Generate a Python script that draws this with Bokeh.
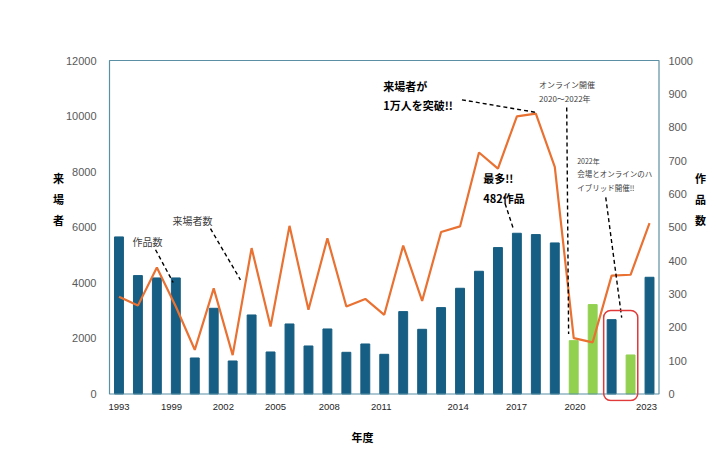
from bokeh.plotting import figure
from bokeh.models import Range1d, LinearAxis, FixedTicker, Label, BoxAnnotation, ColumnDataSource
from bokeh.embed import file_html
from bokeh.resources import INLINE

# ---- data ----
works = [471, 355, 348, 348, 108, 257, 99, 237, 126, 210, 144, 195, 125, 150, 119,
         247, 194, 259, 317, 368, 439, 482, 478, 453, 160, 268, 223, 117, 350]
visitors = [3500, 3180, 4550, 3150, 1590, 3800, 1400, 5250, 2430, 6050, 3030, 5600, 3150,
            3420, 2850, 5340, 3350, 5830, 6030, 8690, 8110, 9990, 10090, 8170, 2010, 1860,
            4260, 4290, 6150]
kinds = ["venue"] * 24 + ["online", "online", "venue", "online", "venue"]
year_labels = ["1993", "1999", "2002", "2005", "2008", "2011", "2014", "2017", "2020", "2023"]
year_label_x = [0.0, 2.77, 5.51, 8.26, 11.1, 13.84, 17.9, 20.98, 24.07, 27.84]
left_ticks = [0, 2000, 4000, 6000, 8000, 10000, 12000]
right_ticks = [0, 100, 200, 300, 400, 500, 600, 700, 800, 900, 1000]

BLUE = "#165E83"
GREEN = "#92D050"
ORANGE = "#E97132"
FRAME = "#5B8FA3"
colors = [BLUE if k == "venue" else GREEN for k in kinds]
idx = list(range(len(works)))
n = len(works)

src = ColumnDataSource(dict(x=idx, works=works, visitors=visitors, color=colors))

JP = "Noto Sans CJK JP"
NUM = "Liberation Sans"

# frame slightly larger than the drawn plot-area box so the 2022 box can reach below the axis
p = figure(width=716, height=472, output_backend="svg", toolbar_location=None,
           x_range=Range1d(-0.6055, n - 0.368), y_range=Range1d(-270, 12072),
           x_axis_location=None, min_border_left=107, min_border_right=55,
           min_border_top=58, min_border_bottom=71)
p.extra_y_ranges = {"works": Range1d(-22.5, 1006)}
p.grid.visible = False
p.outline_line_color = None
p.background_fill_color = "white"
p.border_fill_color = "white"

def style_axis(a, standoff):
    a.axis_line_color = None
    a.major_tick_line_color = None
    a.minor_tick_line_color = None
    a.major_label_standoff = standoff
    a.major_label_text_font = NUM
    a.major_label_text_font_size = "11px"
    a.major_label_text_color = "#595959"
    a.axis_label_text_font = JP
    a.axis_label_text_font_size = "11px"
    a.axis_label_text_font_style = "bold"
    a.axis_label_text_color = "black"

ax = p.yaxis[0]
ax.ticker = FixedTicker(ticks=left_ticks)
style_axis(ax, 5)
ax.axis_label = "来\n場\n者\n\u3000\n\u3000\n\u3000"
ax.axis_label_orientation = "horizontal"
ax.axis_label_text_line_height = 1.3
ax.axis_label_standoff = -1

rax = LinearAxis(y_range_name="works", ticker=FixedTicker(ticks=right_ticks))
style_axis(rax, 1)
rax.axis_label = "作\n品\n数\n\u3000\n\u3000\n\u3000"
rax.axis_label_orientation = "horizontal"
rax.axis_label_text_line_height = 1.3
rax.axis_label_standoff = -1
p.add_layout(rax, "right")

bax = LinearAxis(ticker=FixedTicker(ticks=year_label_x),
                 major_label_overrides={k: v for k, v in zip(year_label_x, year_labels)})
style_axis(bax, -4)
bax.major_label_text_font_size = "9.5px"
bax.major_label_text_color = "#262626"
bax.axis_label = "年度" + "\u3000" * 4
bax.axis_label_standoff = 16
p.add_layout(bax, "below")

# plot-area border
p.add_layout(BoxAnnotation(left=-0.5, right=n - 0.5, bottom=0, top=12000,
                           fill_color=None, line_color=FRAME, line_alpha=1, line_width=1.2))

p.vbar(x="x", top="works", width=0.47, color="color", source=src, y_range_name="works")
p.line(x="x", y="visitors", source=src, color=ORANGE, line_width=2.2)

# red rounded box around 2022
p.add_layout(BoxAnnotation(left=25.58, right=27.38, bottom=-234, top=3005,
                           fill_color=None, fill_alpha=0, line_color="#E03A3A",
                           line_alpha=1, line_width=1.5, border_radius=7))

# dashed annotation leader lines
seg_x0 = [18.1, 23.63, 20.38, 25.69, 1.93, 4.83]
seg_y0 = [10585, 10307, 6848, 7075, 5190, 5947]
seg_x1 = [21.96, 23.73, 20.79, 26.53, 2.86, 6.41]
seg_y1 = [10138, 2162, 5994, 2750, 4011, 4108]
p.segment(seg_x0, seg_y0, seg_x1, seg_y1, line_color="black", line_width=1.4,
          line_dash="4 3")

def lab(x, y, t, size, bold=False, color="black", font=JP, align="left"):
    p.add_layout(Label(x=x, y=y, text=t, text_font=font, text_font_size=size,
                       text_font_style="bold" if bold else "normal",
                       text_color=color, text_align=align, text_baseline="middle"))

lab(13.95, 11100, "来場者が", "11px", bold=True)
lab(13.95, 10416, "1万人を突破!!", "11px", bold=True)
lab(22.17, 11136, "オンライン開催", "8px", color="#404040")
lab(22.17, 10632, "2020～2022年", "8px", color="#404040")
lab(19.22, 7785, "最多!!", "11px", bold=True)
lab(19.22, 7064, "482作品", "11px", bold=True)
lab(24.18, 8397, "2022年", "7px", color="#404040")
lab(24.18, 7929, "会場とオンラインのハ", "7.5px", color="#404040")
lab(24.18, 7424, "イブリッド開催!!", "7.5px", color="#404040")
lab(0.71, 5478, "作品数", "10px", color="#404040")
lab(2.82, 6235, "来場者数", "10px", color="#404040")

open("out.html", "w").write(file_html(p, INLINE))
